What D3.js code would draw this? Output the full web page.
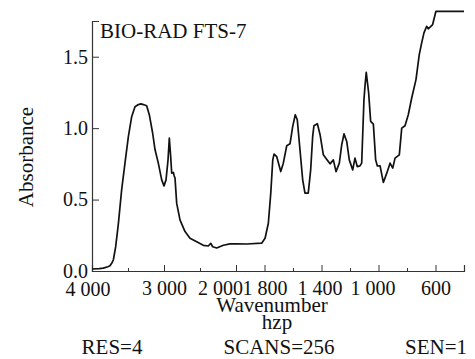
<!DOCTYPE html>
<html>
<head>
<meta charset="utf-8">
<script src="https://cdn.jsdelivr.net/npm/d3@7"></script>
<style>
  body { margin: 0; background: #fff; }
  svg text { font-family: "Liberation Serif", "Times New Roman", serif; fill: #111; }
  .axis path, .axis line { stroke: #333; }
  .spectrum { fill: none; stroke: #111; stroke-width: 1.7; stroke-linejoin: round; }
</style>
</head>
<body>
<div id="chart"></div>
<script>
// spectrum: wavenumber (cm-1) and absorbance
const wavenumber = [
  4000, 3900, 3843, 3780, 3750, 3720, 3704, 3671, 3634, 3588, 3542, 3495, 3449, 3403,
  3356, 3320, 3287, 3241, 3204, 3158, 3125, 3079, 3032, 3000, 2972, 2944, 2926, 2907,
  2893, 2870, 2858, 2847, 2824, 2778, 2708, 2639, 2546, 2454, 2384, 2351, 2324, 2268,
  2176, 2083, 2000, 1925, 1820, 1796, 1773, 1756, 1742, 1733, 1714, 1686, 1668, 1644,
  1621, 1602, 1584, 1570, 1551, 1532, 1516, 1493, 1476, 1462, 1453, 1429, 1410, 1387,
  1364, 1340, 1317, 1298, 1275, 1258, 1242, 1223, 1205, 1181, 1165, 1149, 1130, 1118,
  1102, 1095, 1086, 1069, 1055, 1036, 1020, 1008, 989, 966, 942, 919, 900, 884,
  854, 837, 814, 791, 767, 737, 714, 697, 681, 662, 651, 620, 597, 400
];
const absorbance = [
  0.014, 0.016, 0.020, 0.030, 0.037, 0.060, 0.077, 0.170, 0.330, 0.570, 0.755, 0.940, 1.080, 1.150,
  1.165, 1.170, 1.165, 1.157, 1.094, 0.966, 0.850, 0.755, 0.638, 0.596, 0.638, 0.778, 0.930, 0.800,
  0.685, 0.690, 0.665, 0.650, 0.475, 0.358, 0.276, 0.230, 0.205, 0.180, 0.175, 0.194, 0.170, 0.161,
  0.180, 0.190, 0.190, 0.189, 0.195, 0.229, 0.334, 0.545, 0.778, 0.818, 0.800, 0.696, 0.755, 0.877,
  0.890, 1.012, 1.094, 1.059, 0.849, 0.638, 0.545, 0.545, 0.708, 0.942, 1.017, 1.031, 0.954, 0.813,
  0.783, 0.750, 0.778, 0.696, 0.755, 0.884, 0.960, 0.907, 0.778, 0.708, 0.790, 0.731, 0.736, 0.755,
  1.200, 1.292, 1.390, 1.246, 1.047, 1.028, 0.778, 0.735, 0.736, 0.620, 0.685, 0.755, 0.720, 0.790,
  0.813, 1.000, 1.017, 1.094, 1.211, 1.340, 1.515, 1.597, 1.667, 1.713, 1.695, 1.725, 1.818, 1.818
];

const majorTicks = [3000, 2000, 1800, 1400, 1000, 600];
const minorTicks = [3500, 2500, 1600, 1200, 800, 400];
const tickText = { 4000: '4 000', 3000: '3 000', 2000: '2 000', 1800: '1 800', 1400: '1 400', 1000: '1 000', 600: '600' };
const yTicks = [0, 0.5, 1.0, 1.5];

const title = 'BIO-RAD FTS-7';
const xTitle = 'Wavenumber';
const subTitle = 'hzp';
const footer = ['RES=4', 'SCANS=256', 'SEN=1'];

const options = {
  width: 475,
  height: 359,
  marginLeft: 92,
  plotRight: 464,
  plotTop: 21,
  plotBottom: 271,
};

const data = wavenumber.map((w, i) => ({ w, a: absorbance[i] }));

const svg = d3.select('#chart')
  .append('svg')
  .attr('width', options.width)
  .attr('height', options.height);

// the scale doubles at 2000 cm-1, as on the instrument plot
const x = d3.scaleLinear()
  .domain([4000, 2000, 400])
  .range([options.marginLeft, 236, options.plotRight]);

const y = d3.scaleLinear()
  .domain([0, 1.75])
  .range([options.plotBottom, options.plotTop]);

const xAxis = d3.axisBottom(x)
  .tickValues(majorTicks)
  .tickSize(-6)
  .tickPadding(10)
  .tickFormat(d => tickText[d]);

const xMinor = d3.axisBottom(x)
  .tickValues(minorTicks)
  .tickSize(-3)
  .tickFormat('');

const gx = svg.append('g')
  .attr('class', 'x axis')
  .attr('transform', `translate(0,${options.plotBottom})`)
  .call(xAxis);

svg.append('g')
  .attr('class', 'x minor axis')
  .attr('transform', `translate(0,${options.plotBottom})`)
  .call(xMinor)
  .select('.domain').remove();

// labels that were squeezed left on the original print
const nudge = { 2000: -16, 1400: -2, 1000: -6 };
gx.selectAll('.tick text')
  .style('font-size', '20px')
  .attr('dx', d => nudge[d] || 0);

gx.append('text')
  .attr('x', x(4000) - 4)
  .attr('y', 11)
  .attr('dy', '0.71em')
  .attr('text-anchor', 'middle')
  .style('font-size', '20px')
  .text(tickText[4000]);

const yAxis = d3.axisLeft(y)
  .tickValues(yTicks)
  .tickSize(-7)
  .tickPadding(4)
  .tickFormat(d3.format('.1f'));

svg.append('g')
  .attr('class', 'y axis')
  .attr('transform', `translate(${options.marginLeft},0)`)
  .call(yAxis)
  .selectAll('.tick text')
  .style('font-size', '20px');

svg.selectAll('.axis .domain')
  .attr('stroke-width', 1.2);

const line = d3.line()
  .x(d => x(d.w))
  .y(d => y(d.a));

svg.append('path')
  .attr('class', 'spectrum')
  .attr('d', line(data));

svg.append('text')
  .attr('x', 100)
  .attr('y', 38)
  .style('font-size', '21px')
  .text(title);

svg.append('text')
  .attr('transform', 'translate(33,157) rotate(-90)')
  .attr('text-anchor', 'middle')
  .style('font-size', '21px')
  .text('Absorbance');

svg.append('text')
  .attr('x', 272)
  .attr('y', 312)
  .attr('text-anchor', 'middle')
  .style('font-size', '21px')
  .text(xTitle);

svg.append('text')
  .attr('x', 277)
  .attr('y', 329)
  .attr('text-anchor', 'middle')
  .style('font-size', '21px')
  .text(subTitle);

svg.selectAll('text.footer')
  .data(footer)
  .enter()
  .append('text')
  .attr('class', 'footer')
  .attr('x', (d, i) => [112, 279, 436][i])
  .attr('y', 354)
  .attr('text-anchor', 'middle')
  .style('font-size', '21px')
  .text(d => d);
</script>
</body>
</html>
